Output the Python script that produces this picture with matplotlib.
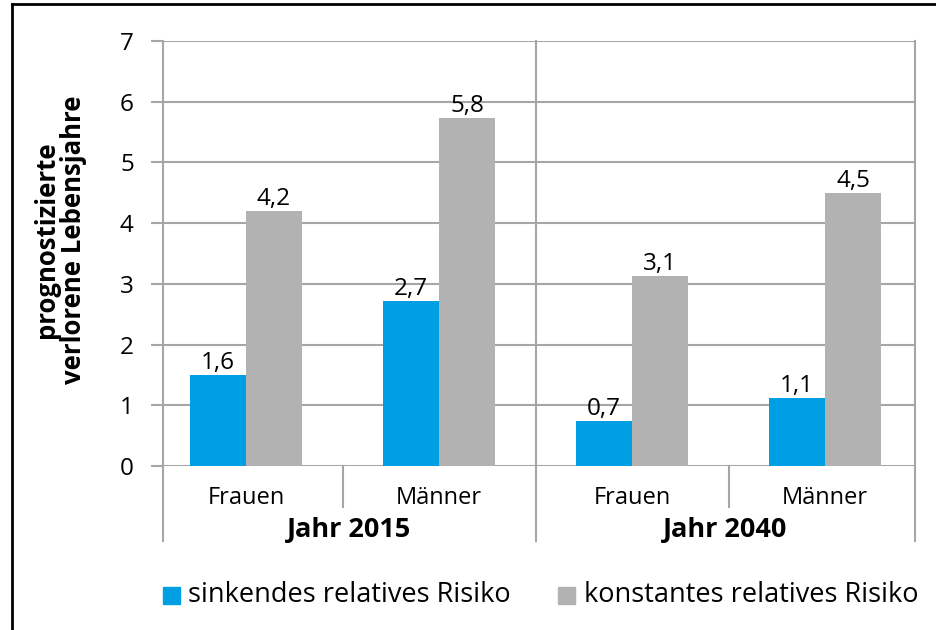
import matplotlib
matplotlib.use("Agg")
import matplotlib.pyplot as plt
from matplotlib.lines import Line2D
from matplotlib.patches import Rectangle

plt.rcParams['font.family'] = ['Open Sans', 'DejaVu Sans']

categories = ["Frauen", "Männer", "Frauen", "Männer"]
years = ["Jahr 2015", "Jahr 2040"]
series_names = ["sinkendes relatives Risiko", "konstantes relatives Risiko"]
sinkend = [1.50, 2.72, 0.74, 1.12]
konstant = [4.20, 5.73, 3.13, 4.50]
sinkend_labels = ["1,6", "2,7", "0,7", "1,1"]
konstant_labels = ["4,2", "5,8", "3,1", "4,5"]
yticks = [0, 1, 2, 3, 4, 5, 6, 7]

BLUE = "#009FE3"
GRAY = "#B2B2B2"
GRID = "#A6A6A6"

W, H = 937, 630
fig = plt.figure(figsize=(W / 100, H / 100), dpi=100)
x0, x1 = 163, 915
y0, y1 = 466, 41
ax = fig.add_axes([x0 / W, (H - y0) / H, (x1 - x0) / W, (y0 - y1) / H])

xs = list(range(len(categories)))
bw = 0.29
ax.bar([x - bw / 2 for x in xs], sinkend, width=bw, color=BLUE, zorder=3)
ax.bar([x + bw / 2 for x in xs], konstant, width=bw, color=GRAY, zorder=3)

for x, v, lab in zip(xs, sinkend, sinkend_labels):
    ax.text(x - bw / 2, v + 0.0, lab, ha='center', va='bottom', fontsize=17.5, zorder=4)
for x, v, lab in zip(xs, konstant, konstant_labels):
    ax.text(x + bw / 2, v + 0.0, lab, ha='center', va='bottom', fontsize=17.5, zorder=4)

ax.set_xlim(-0.43, 3.466)
ax.set_ylim(0, 7)
ax.set_yticks(yticks)
ax.set_yticklabels([str(t) for t in yticks], fontsize=17.5)
ax.tick_params(axis='y', length=9, width=1.5, color=GRID, pad=12)
ax.set_xticks([])
for s in ['top', 'right', 'bottom', 'left']:
    ax.spines[s].set_visible(False)
ax.yaxis.grid(True, color=GRID, linewidth=1.5, zorder=0)
ax.set_axisbelow(True)

trans = ax.get_xaxis_transform()
# left axis line and separators
ax.add_line(Line2D([-0.43, -0.43], [-0.177, 1.0], transform=trans, color=GRID, lw=1.5, clip_on=False))
ax.add_line(Line2D([3.466, 3.466], [-0.177, 1.0], transform=trans, color=GRID, lw=1.5, clip_on=False))
ax.add_line(Line2D([1.5, 1.5], [-0.177, 1.0], transform=trans, color=GRID, lw=1.5, clip_on=False))
for sx in [0.5, 2.5]:
    ax.add_line(Line2D([sx, sx], [-0.097, 0.0], transform=trans, color=GRID, lw=1.5, clip_on=False))

for x, c in zip(xs, categories):
    ax.text(x, -0.075, c, transform=trans, ha='center', va='center', fontsize=17)
for i, yl in enumerate(years):
    ax.text((-0.43 + 1.5) / 2 if i == 0 else (1.5 + 3.466) / 2, -0.15, yl,
            transform=trans, ha='center', va='center', fontsize=19.5, fontweight='bold')

fig.text(60 / W, 1 - 240 / H, "prognostizierte\nverlorene Lebensjahre", rotation=90,
         ha='center', va='center', fontsize=18.5, fontweight='bold', linespacing=1.0)

# legend
ly = 1 - 595 / H
fig.patches.append(Rectangle((163 / W, ly - 9 / H), 17 / W, 17 / H, transform=fig.transFigure,
                             color=BLUE, figure=fig))
fig.text(188 / W, ly, series_names[0], ha='left', va='center', fontsize=19.5)
fig.patches.append(Rectangle((558 / W, ly - 9 / H), 17 / W, 17 / H, transform=fig.transFigure,
                             color=GRAY, figure=fig))
fig.text(584 / W, ly, series_names[1], ha='left', va='center', fontsize=19.5)

# frame
fig.add_artist(Line2D([12 / W, 12 / W], [0, 1 - 4 / H], transform=fig.transFigure, color='black', lw=2))
fig.add_artist(Line2D([12 / W, 1], [1 - 4 / H, 1 - 4 / H], transform=fig.transFigure, color='black', lw=2))

fig.savefig("out.png", dpi=100)
